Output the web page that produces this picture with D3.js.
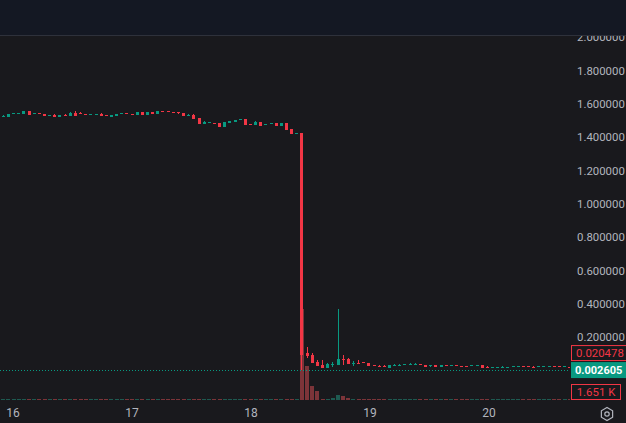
<!DOCTYPE html>
<html>
<head>
<meta charset="utf-8">
<script src="https://cdn.jsdelivr.net/npm/d3@7"></script>
<style>
  html, body { margin: 0; padding: 0; background: #19191d; overflow: hidden; }
  svg { display: block; font-family: Roboto, "Noto Sans", sans-serif; }
</style>
</head>
<body>
<div id="chart"></div>
<script>
// candles, one row per bar: [open, high, low, close]
const ohlc = [
    [1.5265, 1.5345, 1.5265, 1.5305], [1.5245, 1.5405, 1.5245, 1.5405], [1.5440, 1.5450, 1.5440, 1.5450],
    [1.5440, 1.5450, 1.5440, 1.5450], [1.5405, 1.5565, 1.5405, 1.5565], [1.5565, 1.5565, 1.5365, 1.5365],
    [1.5440, 1.5450, 1.5440, 1.5450], [1.5450, 1.5450, 1.5440, 1.5440], [1.5405, 1.5405, 1.5285, 1.5285],
    [1.5320, 1.5330, 1.5320, 1.5330], [1.5365, 1.5405, 1.5245, 1.5245], [1.5245, 1.5345, 1.5245, 1.5345],
    [1.5365, 1.5405, 1.5305, 1.5305], [1.5305, 1.5525, 1.5305, 1.5485], [1.5485, 1.5585, 1.5305, 1.5305],
    [1.5465, 1.5525, 1.5425, 1.5425], [1.5390, 1.5390, 1.5380, 1.5380], [1.5380, 1.5390, 1.5380, 1.5390],
    [1.5380, 1.5390, 1.5380, 1.5390], [1.5405, 1.5465, 1.5305, 1.5305], [1.5330, 1.5330, 1.5320, 1.5320],
    [1.5245, 1.5345, 1.5245, 1.5345], [1.5285, 1.5405, 1.5285, 1.5405], [1.5440, 1.5450, 1.5440, 1.5450],
    [1.5450, 1.5450, 1.5440, 1.5440], [1.5410, 1.5410, 1.5400, 1.5400], [1.5345, 1.5505, 1.5345, 1.5505],
    [1.5505, 1.5505, 1.5345, 1.5345], [1.5345, 1.5525, 1.5345, 1.5525], [1.5525, 1.5525, 1.5405, 1.5405],
    [1.5425, 1.5585, 1.5425, 1.5585], [1.5570, 1.5570, 1.5560, 1.5560], [1.5570, 1.5570, 1.5560, 1.5560],
    [1.5510, 1.5510, 1.5500, 1.5500], [1.5505, 1.5505, 1.5425, 1.5465], [1.5465, 1.5465, 1.5305, 1.5305],
    [1.5305, 1.5405, 1.5305, 1.5365], [1.5345, 1.5405, 1.5125, 1.5125], [1.5165, 1.5165, 1.4825, 1.4825],
    [1.4825, 1.4985, 1.4825, 1.4945], [1.4900, 1.4910, 1.4900, 1.4910], [1.4850, 1.4850, 1.4840, 1.4840],
    [1.4865, 1.4865, 1.4645, 1.4645], [1.4645, 1.4925, 1.4645, 1.4925], [1.4865, 1.4985, 1.4865, 1.4985],
    [1.4925, 1.5045, 1.4925, 1.5045], [1.5080, 1.5090, 1.5080, 1.5090], [1.5105, 1.5105, 1.4765, 1.4765],
    [1.4810, 1.4810, 1.4800, 1.4800], [1.4765, 1.4985, 1.4765, 1.4925], [1.4925, 1.4925, 1.4705, 1.4705],
    [1.4800, 1.4810, 1.4800, 1.4810], [1.4840, 1.4850, 1.4840, 1.4850], [1.4865, 1.4865, 1.4705, 1.4705],
    [1.4705, 1.4865, 1.4705, 1.4865], [1.4865, 1.4865, 1.4465, 1.4465], [1.4505, 1.4505, 1.4224, 1.4224],
    [1.4240, 1.4250, 1.4240, 1.4250],
    // the crash
    [1.4250, 1.4250, 0.0030, 0.0930],
    [0.1031, 0.1431, 0.0731, 0.0891], [0.0931, 0.1071, 0.0450, 0.0470], [0.0531, 0.0631, 0.0280, 0.0290],
    [0.0330, 0.0631, 0.0160, 0.0170], [0.0170, 0.0470, 0.0160, 0.0410], [0.0385, 0.0510, 0.0230, 0.0395],
    [0.0330, 0.3694, 0.0310, 0.0691], [0.0691, 0.0931, 0.0330, 0.0631], [0.0691, 0.0751, 0.0400, 0.0410],
    [0.0465, 0.0571, 0.0270, 0.0475], [0.0475, 0.0631, 0.0460, 0.0465], [0.0490, 0.0490, 0.0430, 0.0430],
    [0.0450, 0.0450, 0.0290, 0.0290], [0.0315, 0.0315, 0.0305, 0.0305], [0.0255, 0.0310, 0.0190, 0.0245],
    [0.0275, 0.0350, 0.0190, 0.0265], [0.0170, 0.0330, 0.0170, 0.0330], [0.0290, 0.0410, 0.0290, 0.0350],
    [0.0290, 0.0390, 0.0290, 0.0350], [0.0365, 0.0375, 0.0365, 0.0375], [0.0330, 0.0450, 0.0330, 0.0390],
    [0.0330, 0.0450, 0.0330, 0.0390], [0.0375, 0.0375, 0.0365, 0.0365], [0.0330, 0.0330, 0.0230, 0.0230],
    [0.0270, 0.0330, 0.0230, 0.0330], [0.0330, 0.0330, 0.0230, 0.0230], [0.0230, 0.0330, 0.0230, 0.0330],
    [0.0315, 0.0315, 0.0305, 0.0305], [0.0305, 0.0315, 0.0305, 0.0315], [0.0315, 0.0315, 0.0305, 0.0305],
    [0.0255, 0.0255, 0.0245, 0.0245], [0.0255, 0.0255, 0.0245, 0.0245], [0.0305, 0.0315, 0.0305, 0.0315],
    [0.0305, 0.0315, 0.0305, 0.0315], [0.0330, 0.0330, 0.0170, 0.0170], [0.0230, 0.0290, 0.0170, 0.0170],
    [0.0185, 0.0195, 0.0185, 0.0195], [0.0185, 0.0195, 0.0185, 0.0195], [0.0200, 0.0270, 0.0200, 0.0215],
    [0.0185, 0.0195, 0.0185, 0.0195], [0.0245, 0.0255, 0.0245, 0.0255], [0.0245, 0.0255, 0.0245, 0.0255],
    [0.0255, 0.0255, 0.0245, 0.0245], [0.0255, 0.0255, 0.0245, 0.0245], [0.0230, 0.0290, 0.0190, 0.0190],
    [0.0245, 0.0255, 0.0245, 0.0255], [0.0245, 0.0255, 0.0245, 0.0255], [0.0245, 0.0255, 0.0245, 0.0255],
    [0.0255, 0.0255, 0.0245, 0.0245], [0.0255, 0.0255, 0.0245, 0.0245], [0.0245, 0.0255, 0.0245, 0.0255],
    [0.0215, 0.0215, 0.0205, 0.020478]
];

// volume per bar, in thousands
const volumes = [
    1.4, 1.2, 1.1, 1.3, 1.5, 1.4, 1.0, 1.2, 1.4, 1.1, 1.3, 1.2, 1.4, 1.5, 1.5, 1.2, 1.0, 1.1, 1.2, 1.4,
    1.1, 1.3, 1.4, 1.0, 1.1, 1.2, 1.4, 1.5, 1.4, 1.3, 1.5, 1.1, 1.0, 1.2, 1.3, 1.5, 1.3, 1.5, 1.5, 1.4,
    1.1, 1.1, 1.5, 1.5, 1.3, 1.3, 1.1, 1.5, 1.2, 1.4, 1.5, 1.1, 1.2, 1.4, 1.4, 1.5, 1.5, 1.2,
    142, 53, 22, 14, 2.0, 1.8, 3.2, 7.8, 6.2, 3.2, 1.6, 1.4, 1.5, 1.4, 1.3, 1.4, 1.5, 1.5, 1.3, 1.2,
    1.1, 1.3, 1.2, 1.1, 1.2, 1.5, 1.4, 1.3, 1.4, 1.4, 1.2, 1.1, 1.3, 1.2, 1.3, 1.1, 1.4, 1.5, 1.3, 1.2,
    1.2, 1.3, 1.1, 1.1, 1.2, 1.3, 1.4, 1.2, 1.1, 1.2, 1.3, 1.4, 1.2, 1.651
];

const priceTicks = [0.2, 0.4, 0.6, 0.8, 1.0, 1.2, 1.4, 1.6, 1.8, 2.0];
// day labels sit between bars, so they are given as fractional bar positions
const dayTicks = [
    { label: "16", bar: 1.88 },
    { label: "17", bar: 24.99 },
    { label: "18", bar: 48.1 },
    { label: "19", bar: 71.2 },
    { label: "20", bar: 94.3 }
];
const markPrice = 0.002605;   // green dotted line
const lastPrice = 0.020478;

const WIDTH = 626, HEIGHT = 423;
const HEADER = 35;
const PLOT_RIGHT = 570;
const PANE_BOTTOM = 401;

const UP = "#089981", DOWN = "#f23645";
const UP_VOL = "#1e5a51", DOWN_VOL = "#7c3439";
const TEXT = "#b2b5be", BG = "#19191d";
const AXIS_FONT = "11.4px";

const svg = d3.select("#chart").append("svg")
    .attr("width", WIDTH)
    .attr("height", HEIGHT);

svg.append("rect").attr("width", WIDTH).attr("height", HEIGHT).attr("fill", BG);

const xScale = d3.scaleLinear().domain([-0.65, 110.05]).range([0, PLOT_RIGHT]);
const yScale = d3.scaleLinear().domain([0, 2]).range([370.5, 37.5]);
const vScale = d3.scaleLinear().domain([0, d3.max(volumes)]).range([PANE_BOTTOM - 1, 309]);

svg.append("clipPath").attr("id", "plot")
    .append("rect")
    .attr("x", 0).attr("y", HEADER)
    .attr("width", PLOT_RIGHT).attr("height", PANE_BOTTOM - HEADER);

const plot = svg.append("g").attr("clip-path", "url(#plot)");

const bars = ohlc.map((d, i) => ({
    i, open: d[0], high: d[1], low: d[2], close: d[3], vol: volumes[i], up: d[3] >= d[0]
}));

// volume overlay
const volW = 4;
plot.append("g").attr("class", "volume")
    .selectAll("rect")
    .data(bars)
    .join("rect")
    .attr("x", d => Math.round(xScale(d.i) - volW / 2))
    .attr("width", volW)
    .attr("y", d => Math.min(vScale(d.vol), PANE_BOTTOM - 2))
    .attr("height", d => Math.max(1, (PANE_BOTTOM - 1) - vScale(d.vol)))
    .attr("fill", d => d.up ? UP_VOL : DOWN_VOL)
    .attr("shape-rendering", "crispEdges");

// mark price line
plot.append("line")
    .attr("x1", 0).attr("x2", PLOT_RIGHT)
    .attr("y1", Math.round(yScale(markPrice)) + 0.5)
    .attr("y2", Math.round(yScale(markPrice)) + 0.5)
    .attr("stroke", UP)
    .attr("stroke-width", 1)
    .attr("stroke-dasharray", "1,2");

// candles
const candle = plot.append("g").attr("class", "candles")
    .selectAll("g")
    .data(bars)
    .join("g")
    .attr("fill", d => d.up ? UP : DOWN)
    .attr("shape-rendering", "crispEdges");

candle.append("rect")
    .attr("class", "wick")
    .attr("x", d => Math.round(xScale(d.i) - 0.5))
    .attr("width", 1)
    .attr("y", d => yScale(d.high))
    .attr("height", d => Math.max(1, yScale(d.low) - yScale(d.high)));

const bodyW = 3;
candle.append("rect")
    .attr("class", "body")
    .attr("x", d => Math.round(xScale(d.i) - 0.5) - 1)
    .attr("width", bodyW)
    .attr("y", d => yScale(Math.max(d.open, d.close)))
    .attr("height", d => Math.max(1, Math.abs(yScale(d.open) - yScale(d.close))));

// price axis labels
svg.append("g").attr("class", "y-axis")
    .selectAll("text")
    .data(priceTicks)
    .join("text")
    .attr("x", 577)
    .attr("y", d => yScale(d))
    .attr("dy", "0.35em")
    .attr("fill", TEXT)
    .style("font-size", AXIS_FONT)
    .text(d => d.toFixed(6));

// time axis labels
svg.append("g").attr("class", "x-axis")
    .selectAll("text")
    .data(dayTicks)
    .join("text")
    .attr("x", d => xScale(d.bar))
    .attr("y", 413)
    .attr("dy", "0.35em")
    .attr("text-anchor", "middle")
    .attr("fill", TEXT)
    .style("font-size", "12px")
    .text(d => d.label);

// price labels on the axis
const markY = yScale(markPrice);
const lastY = Math.min(yScale(lastPrice), markY - 17);

svg.append("rect")
    .attr("x", 571.5).attr("y", lastY - 7.5)
    .attr("width", 60).attr("height", 15)
    .attr("fill", BG).attr("stroke", DOWN);
svg.append("text")
    .attr("x", 576).attr("y", lastY).attr("dy", "0.35em")
    .attr("fill", DOWN).style("font-size", AXIS_FONT)
    .text(lastPrice.toFixed(6));

svg.append("rect")
    .attr("x", 571).attr("y", markY - 8)
    .attr("width", 60).attr("height", 16)
    .attr("fill", UP);
svg.append("text")
    .attr("x", 575).attr("y", markY).attr("dy", "0.35em")
    .attr("fill", "#ffffff").style("font-size", "11px").style("font-weight", "bold")
    .text(markPrice.toFixed(6));

// volume label
const lastVol = volumes[volumes.length - 1];
const volY = Math.min(vScale(lastVol), PANE_BOTTOM - 9);
svg.append("rect")
    .attr("x", 571.5).attr("y", volY - 7.5)
    .attr("width", 49).attr("height", 15)
    .attr("fill", BG).attr("stroke", DOWN);
svg.append("text")
    .attr("x", 596).attr("y", volY).attr("dy", "0.35em")
    .attr("text-anchor", "middle")
    .attr("fill", DOWN).style("font-size", AXIS_FONT)
    .text(d3.format(".3f")(lastVol) + " K");

// settings icon in the corner
const cx = 607, cy = 414, r = 6.5;
const hex = d3.range(6).map(k => {
    const a = Math.PI / 6 + k * Math.PI / 3;
    return [cx + r * Math.cos(a), cy + r * Math.sin(a)];
});
svg.append("polygon")
    .attr("points", hex.map(p => p.join(",")).join(" "))
    .attr("fill", "none").attr("stroke", TEXT).attr("stroke-width", 1.2);
svg.append("circle")
    .attr("cx", cx).attr("cy", cy).attr("r", 2.2)
    .attr("fill", "none").attr("stroke", TEXT).attr("stroke-width", 1.2);

// header strip on top
svg.append("rect")
    .attr("width", WIDTH).attr("height", HEADER)
    .attr("fill", "#141823");
svg.append("rect")
    .attr("y", HEADER).attr("width", WIDTH).attr("height", 1)
    .attr("fill", "#2e313b");
</script>
</body>
</html>
